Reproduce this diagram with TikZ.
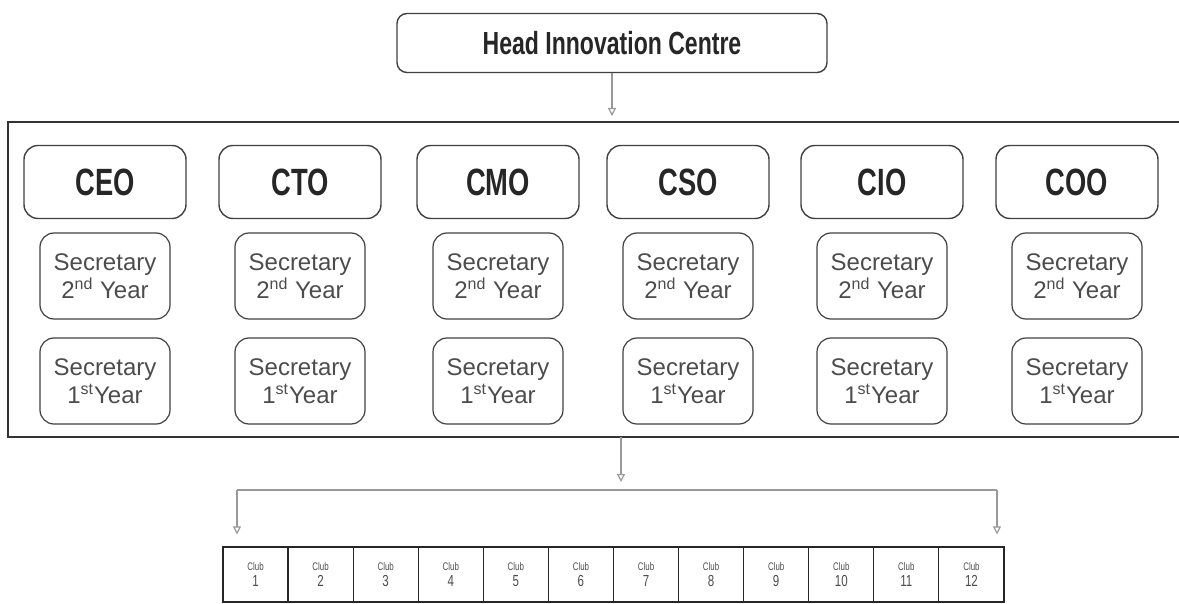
\documentclass[tikz,border=0pt]{standalone}
\usepackage{fontspec}
\setmainfont{Liberation Sans}
\newfontfamily\condfont[FakeStretch=0.72]{Liberation Sans}
\usetikzlibrary{arrows.meta}

\begin{document}
\begin{tikzpicture}[x=0.5pt,y=-0.5pt]
  \def\clubwidth{32.54pt}
  \def\clubheight{27.5pt}
  \def\firstclub{223}
  \def\clubstep{65.08}

  \tikzset{
    headbox/.style={draw=black!75,line width=.7pt,rounded corners=5pt,
      minimum width=215pt,minimum height=29.5pt,inner sep=0pt,
      font=\condfont\bfseries\fontsize{16}{18}\selectfont,text=black!85},
    rolebox/.style={draw=black!75,line width=.7pt,rounded corners=7pt,
      minimum width=81pt,minimum height=36.5pt,inner sep=0pt,
      font=\condfont\bfseries\fontsize{19}{20}\selectfont,text=black!85},
    secbox/.style={draw=black!75,line width=.6pt,rounded corners=7pt,
      minimum width=65pt,minimum height=43pt,inner sep=0pt,align=center,
      font=\fontsize{12}{14}\selectfont,text=black!70},
    clubcell/.style={draw=black!85,line width=.6pt,
      minimum width=\clubwidth,minimum height=\clubheight,inner sep=0pt,
      align=center,font=\condfont\fontsize{5.5}{8}\selectfont,text=black!70},
    link/.style={draw=black!40,line width=.6pt},
    conn/.style={link,-{Triangle[open,length=4pt,width=4pt]}}
  }

  \useasboundingbox (0,0) rectangle (1179,604);

  % top of the chart
  \node[headbox] (head) at (612,43) {Head Innovation Centre};

  % frame round the officers
  \node[draw=black!80,line width=.7pt,inner sep=0pt,outer sep=0pt,
        minimum width=587pt,minimum height=157.5pt] (panel) at (595,279.5) {};

  \foreach \name/\role/\x in {ceo/CEO/105,cto/CTO/300,cmo/CMO/498,
                              cso/CSO/688,cio/CIO/882,coo/COO/1077}
  {
    \node[rolebox] (\name) at (\x,182) {\role};
    \node[secbox] (\name-2nd) at (\x,276) {Secretary\\2\textsuperscript{nd} Year};
    \node[secbox] (\name-1st) at (\x,381) {Secretary\\1\textsuperscript{st}Year};
  }

  % row of clubs
  \foreach \i in {1,...,12}
  {
    \node[clubcell] (club\i) at ({\firstclub+(\i-0.5)*\clubstep},574.5)
        {Club\\{\fontsize{8}{8}\selectfont\i}};
  }

  \coordinate (split) at (621,490);
  \coordinate (leftdrop) at (237,490);
  \coordinate (rightdrop) at (997,490);

  \draw[conn,shorten >=3pt] (head) -- (head |- panel.north);
  \draw[conn,shorten >=4pt] (panel.south -| split) -- (split);
  \draw[link] (leftdrop) -- (rightdrop);
  \draw[conn,shorten >=6pt] (leftdrop) -- (leftdrop |- club1.north);
  \draw[conn,shorten >=6pt] (rightdrop) -- (rightdrop |- club12.north);
\end{tikzpicture}
\end{document}
